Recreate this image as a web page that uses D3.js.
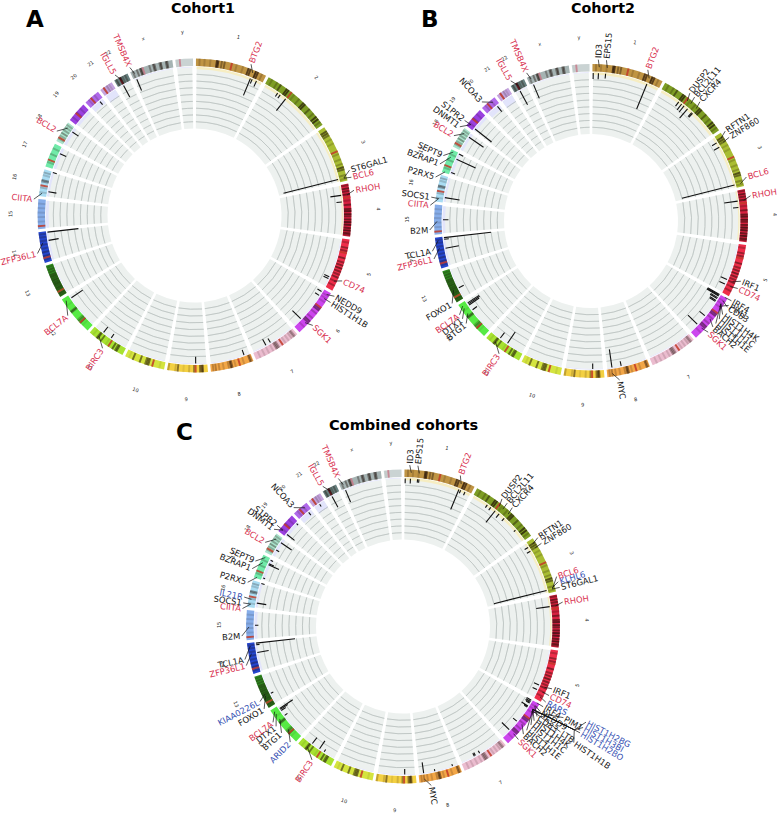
<!DOCTYPE html>
<html><head><meta charset="utf-8">
<style>html,body{margin:0;padding:0;background:#fff}svg{display:block}text{font-family:"DejaVu Sans",sans-serif}</style>
<script src="https://cdn.jsdelivr.net/npm/d3@7/dist/d3.min.js"></script>
</head><body><svg id="c" width="777" height="814"></svg>
<script>
// ---------- data ----------
const chromNames=["1","2","3","4","5","6","7","8","9","10","11","12","13","14","15","16","17","18","19","20","21","22","x","y"];
const chromMb=[249.25,243.2,198,191.15,180.9,171.1,159.1,146.4,141.2,135.5,135,133.85,115.2,107.35,102.5,90.35,81.2,78.1,59.1,63,48.1,51.3,155.3,59.4];
const chromSpan=[26.5,26.4,21.3,19.5,19.7,18.3,17.7,16,15,15,14.5,14.7,12.5,11.5,11,10,9,8,7.5,6,5,5.5,16,6.5];
const chromColors=["#bf9443","#7d9d24","#a9bd33","#d8213f","#ee2d4a","#cc46ee","#ebbccf","#f2a647","#f3d042","#d4e43f","#a7e230","#57ea45","#2f9022","#2546cf","#86ade9","#a9dcf3","#70eaa9","#a9e3cc","#9a40e0","#b069ea","#c4a3de","#67807f","#a5b3b3","#cad3d3"];
const centromerePct=[50,38,47,26,26,35,37,32,30,30,42,27,16,16,10,40,30,20,45,42,28,40,30,25];
const cytoBands=[
[[5,.25],[12,.2],[20,.2],[29,.85],[31,.85],[36,.45],[40,.5],[57,.2],[66,.2],[74,.8],[77,.75],[85,.9],[88,.8],[94,.25]],
[[6,.25],[14,.3],[20,.6],[30,.85],[33,.85],[43,.2],[52,.3],[60,.75],[63,.8],[72,.5],[80,.3],[86,.8],[90,.85],[95,.3]],
[[8,.7],[12,.7],[16,.5],[24,.2],[32,.2],[52,.25],[62,.25],[70,.3],[76,.75],[80,.6],[90,.35],[96,.25]],
[[3,.5],[9,.7],[14,.6],[20,.7],[32,.3],[40,.6],[48,.7],[52,.8],[58,.8],[62,.6],[68,.7],[73,.85],[78,.8],[84,.7],[89,.85],[94,.7],[97,.5]],
[[6,.3],[16,.5],[22,.5],[36,.6],[44,.5],[50,.6],[56,.7],[62,.6],[68,.5],[74,.6],[82,.4],[90,.4]],
[[8,.2],[14,.2],[22,.2],[38,.6],[42,.6],[50,.3],[62,.3],[70,.6],[74,.55],[86,.2]],
[[6,.35],[9,.4],[14,.2],[22,.15],[30,.15],[46,.4],[49,.5],[52,.45],[60,.15],[70,.15],[80,.15],[90,.15]],
[[4,.4],[7,.55],[22,.2],[42,.2],[50,.6],[53,.7],[58,.3],[70,.2],[80,.25],[88,.35],[94,.3]],
[[12,.7],[15,.75],[19,.6],[34,.5],[46,.2],[60,.1],[74,.6],[80,.2],[97,.3]],
[[12,.1],[40,.7],[44,.7],[48,.6],[62,.65],[80,.65],[90,.1]],
[[18,.7],[22,.6],[30,.65],[50,.1],[65,.6],[75,.65],[78,.6],[90,.1]],
[[18,.1],[26,.5],[32,.5],[36,.3],[60,.55],[63,.5],[80,.1]],
[[4,.5],[10,.6],[22,.5],[28,.6],[34,.5],[40,.6],[46,.55],[52,.6],[58,.5],[64,.55],[70,.5],[78,.4],[86,.4],[94,.3]],
[[10,.3],[22,.4],[34,.4],[46,.3],[58,.35],[70,.3],[82,.3],[92,.3]],
[[25,.15],[40,.15],[55,.15],[70,.15],[85,.15]],
[[15,.2],[32,.25],[55,.45],[60,.55],[78,.2],[88,.3]],
[[20,.25],[55,.3],[80,.25]],
[[15,.3],[30,.3],[45,.45],[60,.35],[75,.3],[88,.3]],
[[20,.2],[50,.3],[75,.2]],
[[25,.2],[45,.2],[70,.2]],
[[30,.2],[55,.25],[75,.15]],
[[15,.5],[45,.85],[60,.3],[80,.4]],
[[6,.4],[16,.5],[24,.7],[27,.6],[46,.4],[55,.6],[58,.55],[70,.5],[73,.7],[85,.6],[88,.6]],
[[10,.05]]
];
const tintDepth=[.25,.25,.2,.1,0,0,0,0,0,0,0,0,0,.15,.3,.2,.3,.3,.3,.7,1.1,0,0,0];

const marksA=[["1",203,2.7],["1",210,.7],["1",227,.9],["2",55,.6],["2",66,.6],["2",90,2.2],["3",187,8.3],["4",39,1.6],["4",64,.8],["5",143,.8],["5",150,.8],["6",11.2,.7],["6",27.8,.7],["6",135,1.7],["7",108,1],["7",90,.7],["8",23,.8],["9",42,1],["11",98,1],["11",64,.7],["12",121,2],["14",104,4.6],["14",74,1.5],["16",19,1.2],["16",88,.6],["17",58,1],["18",59,1.1],["20",45,.6],["22",20,1.9],["x",12,1.8]];
const marksB=[["1",3,.9],["1",22,.9],["1",48,.7],["1",203,4],["2",75,.8],["2",88,1.1],["2",99,1.2],["2",115,1.8],["2",135,.8],["2",139,.8],["3",22,.8],["3",40,.9],["3",187,8],["4",40,2],["4",64,.8],["5",132,1],["5",150,.9],["6",1,2],["6",4,2],["6",7,2],["6",14,1.2],["6",18,1.2],["6",26,1],["6",30,1],["6",94,1],["6",135,1.9],["8",127,2.7],["8",94,.7],["9",40,.8],["11",97,1],["11",65,2],["12",122.5,2],["12",118,2],["12",113.5,1.8],["12",92.5,.8],["13",41,.8],["14",104,7],["14",98,.7],["14",65,2],["15",51,.8],["16",18,2.2],["17",8,.6],["17",58,3.1],["17",78,.7],["18",60,2.6],["19",8,3.1],["20",50,1],["22",20,2.3],["x",12.9,2.2]];
const marksC=[["1",3,.7],["1",22,.7],["1",48,.5],["1",53,.5],["1",203,3.2],["1",210,.5],["1",227,.5],["2",60,.5],["2",75,.5],["2",95,2.2],["2",113,.7],["2",137,.5],["2",195,.3],["3",18,.6],["3",34,.6],["3",187,8],["4",40,2],["5",132,.8],["5",150,.7],["6",2,.8],["6",7,.8],["6",11,.8],["6",14,.6],["6",26,1.1],["6",28,.6],["6",31,.5],["6",94,.7],["6",135,1.5],["7",87,.4],["7",104,.5],["7",108,.5],["8",128,1.6],["8",88,.3],["8",23,.3],["9",40,.8],["11",97,1.1],["11",65,1.4],["11",45,.4],["12",122,2.3],["12",118,1.3],["12",113,.8],["12",92,.5],["13",41,.4],["14",104,5.8],["14",98,.5],["14",70,1.7],["15",51,.5],["16",18,1.4],["16",88,.5],["17",8,.3],["17",58,1.7],["17",62,.8],["17",75,.4],["18",27,.5],["18",60,1.9],["19",8,1.4],["19",52,.3],["20",46,.5],["21",25,.4],["22",20,1.8],["x",13,1.9]];

const geneLoci=[["BTG2","1",203],["ID3","1",23.9],["EPS15","1",51.9],["DUSP2","2",96.8],["BCL2L11","2",111.9],["CXCR4","2",136.9],["RFTN1","3",16.4],["ZNF860","3",32],["KLHL6","3",183.2],["ST6GAL1","3",186.7],["BCL6","3",187.4],["RHOH","4",40.2],["IRF1","5",131.8],["CD74","5",149.8],["RARS","5",167.9],["IRF4","6",.4],["NEDD9","6",11.2],["CD83","6",14.1],["HIST1H1C","6",26],["HIST1H1E","6",26.2],["HIST1H2BG","6",26.2],["HIST1H3BI","6",26.9],["HIST1H4K","6",27.1],["HIST1H2BO","6",27.8],["HIST1H1B","6",27.8],["LTB","6",31.5],["PIM1","6",37.1],["BACH2","6",90.9],["SGK1","6",134.5],["MYC","8",128.7],["BIRC3","11",102.2],["ARID2","12",46.1],["BTG1","12",92.5],["DTX1","12",113.5],["BCL7A","12",122.5],["FOXO1","13",41.1],["KIAA0226L","13",46.9],["ZFP36L1","14",69.2],["TCL1A","14",96.2],["B2M","15",45],["CIITA","16",11],["SOCS1","16",11.3],["IL21R","16",27.4],["P2RX5","17",3.6],["BZRAP1","17",56.4],["SEPT9","17",75.3],["BCL2","18",60.8],["DNMT1","19",10.2],["S1PR2","19",10.3],["NCOA3","20",46],["IGLL5","22",23.2],["TMSB4X","x",12.9]];
const redGenes=["BTG2","BCL6","RHOH","CD74","SGK1","BIRC3","BCL7A","ZFP36L1","CIITA","BCL2","IGLL5","TMSB4X"];
const blueGenes=["KLHL6","RARS","HIST1H2BG","HIST1H3BI","HIST1H2BO","ARID2","KIAA0226L","IL21R"];

const genesA=["BTG2","ST6GAL1","BCL6","RHOH","CD74","NEDD9","HIST1H1B","SGK1","BIRC3","BCL7A","ZFP36L1","CIITA","BCL2","IGLL5","TMSB4X"];
const genesB=["ID3","EPS15","BTG2","DUSP2","BCL2L11","CXCR4","RFTN1","ZNF860","BCL6","RHOH","IRF1","CD74","IRF4","CD83","PIM1","HIST1H4K","HIST1H1C","HIST1H1E","BACH2","SGK1","MYC","BIRC3","BTG1","DTX1","BCL7A","FOXO1","ZFP36L1","TCL1A","B2M","CIITA","SOCS1","P2RX5","BZRAP1","SEPT9","BCL2","DNMT1","S1PR2","NCOA3","IGLL5","TMSB4X"];
const genesC=["ID3","EPS15","BTG2","DUSP2","BCL2L11","CXCR4","RFTN1","ZNF860","BCL6","KLHL6","ST6GAL1","RHOH","IRF1","CD74","RARS","IRF4","NEDD9","PIM1","CD83","LTB","HIST1H4K","HIST1H1C","HIST1H1E","BACH2","HIST1H2BG","HIST1H3BI","HIST1H2BO","HIST1H1B","SGK1","MYC","BIRC3","ARID2","BTG1","DTX1","BCL7A","FOXO1","KIAA0226L","ZFP36L1","TCL1A","B2M","CIITA","SOCS1","IL21R","P2RX5","BZRAP1","SEPT9","BCL2","DNMT1","S1PR2","NCOA3","IGLL5","TMSB4X"];
const titles=["Cohort1","Cohort2","Combined cohorts"];
const panelLetters=["A","B","C"];

// ---------- layout (not data) ----------
const labelAnglesA=[20.5,73.7,76.3,81,113.9,120,122.6,132.9,214.7,231.7,256.4,275.8,301.5,330.5,336.4];
const labelAnglesB=[2.6,5.5,20.6,37.7,39.9,42.4,56.2,58.8,74.2,81,111.9,114.7,119.6,122.3,121.5,125.4,127.4,129.4,131,133.5,169.8,214.7,230.6,232.7,234.5,239.3,256.4,259.2,266.8,275.6,278.5,285.8,290.7,293.9,301.9,305.7,308.5,317.5,330.2,336.5];
const labelAnglesC=[2.4,5.3,20.8,37.8,40.2,42.6,56.6,59,72,73.9,76,81.3,112.7,115.3,117.9,119.8,121.8,119.6,123.9,123.8,125.7,127.6,130,131.8,117.6,119.3,121,124.2,134.4,169.9,214.3,224.3,228.8,231.8,233.6,239.3,242.3,256,258.2,266.6,276.4,278.4,280.5,285.9,291,293.9,301.4,307,308.8,317.4,330.2,336.4];
const outerTierC={PIM1:186,LTB:191,HIST1H2BG:208,HIST1H3BI:208,HIST1H2BO:208,HIST1H1B:208};
const hubGenes=["HIST1H2BG","HIST1H3BI","HIST1H2BO","HIST1H1B"];

const panels=[
 {cx:194.5,cy:215.5,marks:marksA,genes:genesA,angles:labelAnglesA,title:[203,12.5,14.3],letter:[26,27]},
 {cx:591,cy:221,marks:marksB,genes:genesB,angles:labelAnglesB,title:[603,12.5,14.3],letter:[421,27]},
 {cx:403,cy:626.5,marks:marksC,genes:genesC,angles:labelAnglesC,title:[403.5,430,14.6],letter:[176,440],tier:outerTierC,hub:{angle:121.1,r:200,genes:hubGenes}}
];

const R={ringOut:157,ringIn:149.5,trackOut:148,trackIn:87,chrLabel:184,geneLabel:163};
const svg=d3.select("#c");
const rad=d=>d*Math.PI/180;
const padAngle=rad(1.08);
const trackInset=rad(.3);
const pie=d3.pie().sort(null).startAngle(0).endAngle(2*Math.PI).padAngle(padAngle).value(d=>d);
const slices=pie(chromSpan);
const sectors=slices.map(s=>({a0:s.startAngle+padAngle/2,a1:s.endAngle-padAngle/2}));
const chromIndex=new Map(chromNames.map((n,i)=>[n,i]));
const posScale=chromMb.map((mb,i)=>d3.scaleLinear().domain([0,mb]).range([sectors[i].a0,sectors[i].a1]));
const pctScale=sectors.map(s=>d3.scaleLinear().domain([0,100]).range([s.a0,s.a1]));
const yScale=d3.scaleLinear().domain([0,9]).range([R.trackOut,R.trackIn]);
const arc=d3.arc();
const geneMap=new Map(geneLoci.map(g=>[g[0],g]));
const polar=(a,r)=>[r*Math.sin(a),-r*Math.cos(a)];
const bandHalf=rad(.36);
const line=d3.line();

panels.forEach((p,pi)=>{
  const g=svg.append("g").attr("transform",`translate(${p.cx},${p.cy})`);
  const trackSpan=s=>({startAngle:s.a0+trackInset,endAngle:s.a1-trackInset});
  // tracks
  g.append("g").selectAll("path").data(sectors).join("path")
    .attr("d",s=>arc({innerRadius:R.trackIn,outerRadius:R.trackOut,...trackSpan(s)}))
    .attr("fill","#edf1ef");
  // tint at outer edge of tracks
  g.append("g").selectAll("path").data(sectors).join("path")
    .attr("d",(s,i)=>arc({innerRadius:yScale(tintDepth[i]),outerRadius:R.trackOut+.8,...trackSpan(s)}))
    .attr("fill",(s,i)=>i<4?"#f6edc2":"#e2e4fb");
  // grid
  const gridLevels=d3.range(1,9);
  const grid=g.append("g");
  sectors.forEach(s=>{
    grid.selectAll(null).data(gridLevels).join("path")
      .attr("d",l=>arc({innerRadius:yScale(l),outerRadius:yScale(l),...trackSpan(s)}))
      .attr("fill","none").attr("stroke","#b3bbb8").attr("stroke-width",.5);
  });
  // ideogram
  const ring=g.append("g");
  sectors.forEach((s,i)=>{
    ring.append("path").attr("d",arc({innerRadius:R.ringIn,outerRadius:R.ringOut,startAngle:s.a0,endAngle:s.a1})).attr("fill",chromColors[i]);
    ring.selectAll(null).data(cytoBands[i]).join("path")
      .attr("d",b=>{const c=pctScale[i](b[0]);return arc({innerRadius:R.ringIn,outerRadius:R.ringOut,startAngle:c-bandHalf,endAngle:c+bandHalf});})
      .attr("fill","#1c0c06").attr("fill-opacity",b=>b[1]*.8);
    const c=pctScale[i](centromerePct[i]);
    ring.append("path").attr("d",arc({innerRadius:R.ringIn,outerRadius:R.ringOut,startAngle:c-bandHalf,endAngle:c+bandHalf}))
      .attr("fill",i>=22?"#c77a8a":(i===21?"#5a0f18":"#c23a28")).attr("fill-opacity",.85);
  });
  // mutation marks
  g.append("g").selectAll("path").data(p.marks).join("path")
    .attr("d",m=>{const a=posScale[chromIndex.get(m[0])](m[1]);return line([polar(a,yScale(0)),polar(a,yScale(m[2]))]);})
    .attr("stroke","#111").attr("stroke-width",1.1).attr("fill","none");
  // chromosome labels
  g.append("g").selectAll("text").data(chromNames).join("text")
    .attr("transform",(n,i)=>{const a=(sectors[i].a0+sectors[i].a1)/2,q=polar(a,R.chrLabel),d=a*180/Math.PI;
      return `translate(${q[0]},${q[1]}) rotate(${d>90&&d<270?d-180:d})`;})
    .attr("text-anchor","middle").attr("dy","0.35em").attr("font-size",5).attr("fill","#222").text(n=>n);
  // gene labels and connectors
  const gc=g.append("g"), gl=g.append("g");
  p.genes.forEach((name,i)=>{
    const loc=geneMap.get(name);
    const aGene=posScale[chromIndex.get(loc[1])](loc[2]);
    const deg=p.angles[i], a=rad(deg);
    const rText=(p.tier&&p.tier[name])||R.geneLabel;
    const pts=[polar(aGene,R.ringOut-3)];
    if(p.hub&&p.hub.genes.includes(name)) pts.push(polar(rad(p.hub.angle),p.hub.r));
    pts.push(polar(a,rText-1.5));
    gc.append("path").attr("d",line(pts)).attr("fill","none").attr("stroke","#111").attr("stroke-width",.7);
    const q=polar(a,rText), right=deg<180;
    gl.append("text").attr("transform",`translate(${q[0]},${q[1]}) rotate(${right?deg-90:deg-270})`)
      .attr("text-anchor",right?"start":"end").attr("dy","0.35em").attr("font-size",8.4)
      .attr("fill",redGenes.includes(name)?"#d8304f":blueGenes.includes(name)?"#3853b4":"#161616").text(name);
  });
  // title and letter
  svg.append("text").attr("x",p.title[0]).attr("y",p.title[1]).attr("text-anchor","middle")
    .attr("font-weight","bold").attr("font-size",p.title[2]).attr("fill","#000").text(titles[pi]);
  svg.append("text").attr("x",p.letter[0]).attr("y",p.letter[1])
    .attr("font-weight","bold").attr("font-size",23).attr("fill","#000").text(panelLetters[pi]);
});
</script></body></html>
